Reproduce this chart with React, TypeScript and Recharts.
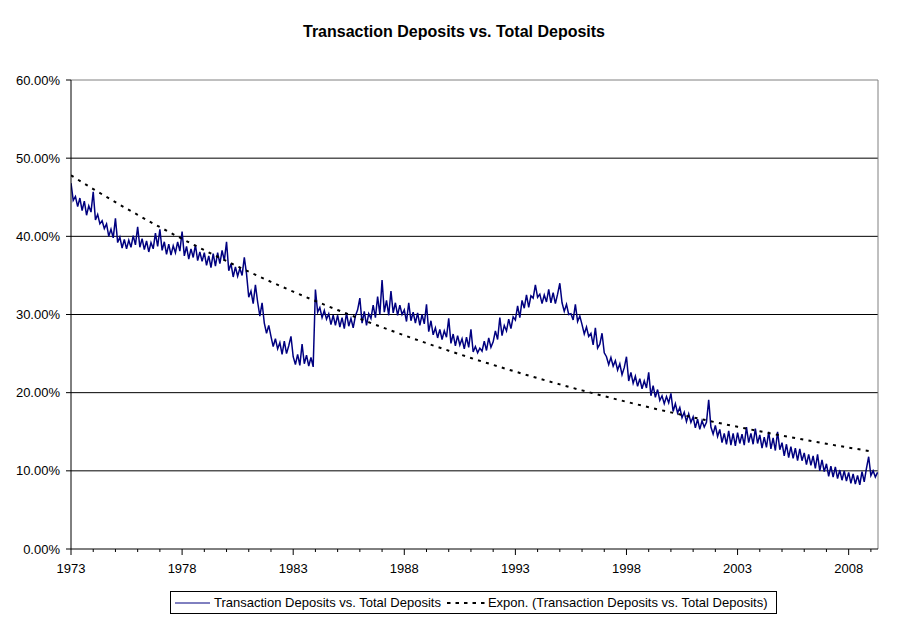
/**
 * App.tsx
 * Transaction deposits as a share of total deposits, 1973–2009,
 * with an exponential trendline (Excel-style chart).
 */

import {
  LineChart, Line, XAxis, YAxis, CartesianGrid, ReferenceLine,
} from 'recharts'

// sampled every 0.1 year starting at 1973.0
const START_YEAR = 1973
const STEP = 0.1

// transaction deposits / total deposits, in %
const ratioPct = [
  46.8, 44.6, 45.1, 43.8, 44.9, 43.3, 44.5, 42.7, 43.9, 43.1, // 1973
  45.7, 42.1, 42.8, 41.6, 42.0, 41.0, 41.6, 40.0, 40.9, 39.8, // 1974
  42.3, 39.2, 39.9, 38.5, 39.6, 38.4, 39.5, 38.6, 40.1, 38.9, // 1975
  41.2, 38.6, 39.7, 38.3, 39.4, 38.0, 39.2, 38.4, 40.4, 38.7, // 1976
  40.9, 38.2, 39.3, 37.7, 39.0, 37.6, 38.8, 37.9, 39.3, 38.1, // 1977
  40.6, 37.5, 38.7, 37.1, 38.4, 37.3, 38.9, 36.9, 38.0, 36.8, // 1978
  37.9, 36.3, 37.5, 36.0, 37.8, 36.2, 37.9, 36.5, 38.2, 36.9, // 1979
  39.3, 35.6, 36.5, 34.8, 36.1, 34.9, 35.9, 35.0, 37.3, 35.2, // 1980
  32.2, 33.0, 31.4, 33.8, 31.6, 29.8, 31.5, 28.9, 27.6, 28.6, // 1981
  27.2, 25.9, 26.9, 25.6, 26.4, 24.9, 26.6, 25.0, 26.0, 27.2, // 1982
  24.6, 23.6, 24.9, 23.5, 26.2, 23.7, 24.8, 23.4, 24.5, 23.3, // 1983
  33.2, 30.3, 30.9, 29.6, 30.5, 29.4, 30.1, 28.7, 29.9, 28.6, // 1984
  29.9, 28.4, 29.6, 28.2, 30.2, 28.5, 29.5, 28.3, 29.8, 30.6, // 1985
  32.1, 28.9, 30.4, 28.6, 30.1, 29.5, 31.2, 29.6, 32.3, 30.0, // 1986
  34.4, 30.3, 31.8, 29.9, 33.0, 30.2, 31.5, 29.9, 31.2, 30.0, // 1987
  30.6, 29.1, 31.5, 29.2, 30.3, 28.9, 30.2, 28.6, 30.0, 28.8, // 1988
  31.3, 27.8, 29.2, 27.4, 28.3, 27.0, 28.1, 26.8, 27.9, 27.1, // 1989
  29.5, 26.3, 27.5, 26.0, 27.3, 26.1, 26.9, 25.6, 27.1, 25.8, // 1990
  28.1, 25.2, 25.9, 25.1, 25.7, 25.3, 26.6, 25.4, 27.0, 25.8, // 1991
  26.5, 27.9, 26.8, 29.6, 27.3, 28.6, 27.9, 29.4, 28.2, 29.7, // 1992
  29.3, 31.1, 29.6, 31.8, 30.8, 32.5, 30.9, 32.4, 32.1, 33.8, // 1993
  32.2, 32.6, 31.4, 32.5, 31.6, 33.2, 31.5, 32.8, 31.4, 32.6, // 1994
  34.0, 31.5, 30.4, 31.3, 30.0, 30.1, 29.3, 31.3, 29.1, 29.8, // 1995
  28.7, 27.5, 28.4, 27.2, 27.6, 26.1, 28.3, 25.7, 26.2, 27.6, // 1996
  25.1, 24.6, 23.6, 24.5, 23.4, 24.1, 22.9, 23.7, 22.3, 23.2, // 1997
  24.6, 21.5, 22.6, 21.2, 22.1, 20.8, 21.8, 20.5, 21.5, 20.6, // 1998
  22.6, 19.6, 20.9, 19.4, 20.4, 19.0, 19.6, 18.6, 19.5, 18.7, // 1999
  19.9, 17.6, 18.6, 17.4, 18.1, 16.8, 17.5, 16.3, 17.3, 16.2, // 2000
  16.9, 15.5, 16.6, 15.3, 16.4, 15.6, 16.2, 19.1, 15.6, 14.7, // 2001
  15.8, 14.4, 15.3, 13.6, 14.8, 13.4, 15.1, 13.3, 14.8, 13.2, // 2002
  14.9, 13.5, 14.7, 13.3, 15.6, 13.6, 14.8, 13.4, 15.4, 13.5, // 2003
  14.6, 12.9, 14.3, 13.0, 15.0, 12.8, 14.2, 12.6, 15.0, 12.7, // 2004
  13.6, 11.9, 13.4, 11.7, 13.1, 11.6, 12.9, 11.3, 12.8, 11.3, // 2005
  12.3, 10.8, 12.1, 10.7, 11.9, 10.3, 12.1, 10.0, 11.4, 9.9,  // 2006
  10.9, 9.3, 10.6, 9.2, 10.5, 9.0, 10.1, 8.8, 10.0, 8.7,      // 2007
  9.8, 8.4, 9.6, 8.3, 9.4, 8.2, 9.9, 8.6, 10.3, 11.8,         // 2008
  9.4, 10.0, 9.2, 9.8,                                         // 2009
]

// exponential trendline, one value per year 1973..2009
const trendPct = [
  47.8, 46.05, 44.37, 42.75, 41.18, 39.68, 38.23, 36.83, 35.48, 34.18,
  32.93, 31.73, 30.57, 29.45, 28.37, 27.33, 26.33, 25.37, 24.44, 23.55,
  22.69, 21.86, 21.06, 20.29, 19.55, 18.83, 18.14, 17.48, 16.84, 16.22,
  15.63, 15.06, 14.51, 13.98, 13.47, 12.97, 12.5,
]

const allYears = [
  1973, 1974, 1975, 1976, 1977, 1978, 1979, 1980, 1981, 1982, 1983, 1984, 1985,
  1986, 1987, 1988, 1989, 1990, 1991, 1992, 1993, 1994, 1995, 1996, 1997, 1998,
  1999, 2000, 2001, 2002, 2003, 2004, 2005, 2006, 2007, 2008, 2009,
]
const labeledYears = [1973, 1978, 1983, 1988, 1993, 1998, 2003, 2008]
const yTicks = [0, 10, 20, 30, 40, 50, 60]
const X_END = 2009.32

const data = ratioPct.map((v, i) => ({
  year: Math.round((START_YEAR + i * STEP) * 10) / 10,
  ratio: v,
  trend: i % 10 === 0 ? trendPct[i / 10] ?? null : null,
}))

const FONT = "'Liberation Sans', Arial, sans-serif"

const YearTick = ({ x, y, payload }: any) => {
  const major = labeledYears.includes(payload.value)
  return (
    <g>
      <line x1={x} x2={x} y1={y - 3} y2={y + (major ? 3 : 0)} stroke="#000" />
      {major && (
        <text x={x} y={y} dy={21} textAnchor="middle" fill="#000" fontSize={13}>
          {payload.value}
        </text>
      )}
    </g>
  )
}

export default function App() {
  return (
    <div style={{ position: 'absolute', left: 0, top: 0, width: 908, height: 623, background: '#fff', fontFamily: FONT }}>
      <div style={{ position: 'absolute', top: 23, left: 0, width: 908, textAlign: 'center', fontWeight: 'bold', fontSize: 16, lineHeight: '18px', color: '#000' }}>
        Transaction Deposits vs. Total Deposits
      </div>

      <LineChart width={908} height={623} data={data} margin={{ top: 80, right: 30, left: 0, bottom: 44 }}>
        <CartesianGrid vertical={false} stroke="#000" horizontalValues={[10, 20, 30, 40, 50]} />
        <ReferenceLine y={60} stroke="#808080" />
        <ReferenceLine x={X_END} stroke="#808080" />
        <XAxis
          dataKey="year"
          type="number"
          domain={[START_YEAR, X_END]}
          ticks={allYears}
          interval={0}
          allowDataOverflow
          height={30}
          axisLine={{ stroke: '#000' }}
          tickLine={false}
          tickSize={3}
          tickMargin={0}
          tick={<YearTick />}
        />
        <YAxis
          domain={[0, 60]}
          ticks={yTicks}
          interval={0}
          width={71}
          axisLine={{ stroke: '#000' }}
          tickLine={{ stroke: '#000' }}
          tickSize={5}
          tickMargin={6}
          tick={{ fill: '#000', fontSize: 13 }}
          tickFormatter={(v: number) => `${v.toFixed(2)}%`}
        />
        <Line
          type="linear"
          dataKey="ratio"
          stroke="#000080"
          strokeWidth={1.5}
          dot={false}
          isAnimationActive={false}
        />
        <Line
          type="monotone"
          dataKey="trend"
          stroke="#000"
          strokeWidth={2}
          strokeDasharray="3 5.3"
          dot={false}
          connectNulls
          isAnimationActive={false}
        />
      </LineChart>

      <div style={{ position: 'absolute', left: 170, top: 591, width: 607, height: 23, boxSizing: 'border-box', border: '1px solid #000', display: 'flex', alignItems: 'center', fontSize: 13, color: '#000', whiteSpace: 'nowrap' }}>
        <svg width={35} height={4} style={{ marginLeft: 4, marginRight: 4 }}>
          <line x1={0} x2={35} y1={2} y2={2} stroke="#000080" strokeWidth={1} />
        </svg>
        <span>Transaction Deposits vs. Total Deposits</span>
        <svg width={38} height={4} style={{ marginLeft: 6, marginRight: 3 }}>
          <line x1={0} x2={38} y1={2} y2={2} stroke="#000" strokeWidth={2} strokeDasharray="3.5 5" />
        </svg>
        <span>Expon. (Transaction Deposits vs. Total Deposits)</span>
      </div>
    </div>
  )
}
